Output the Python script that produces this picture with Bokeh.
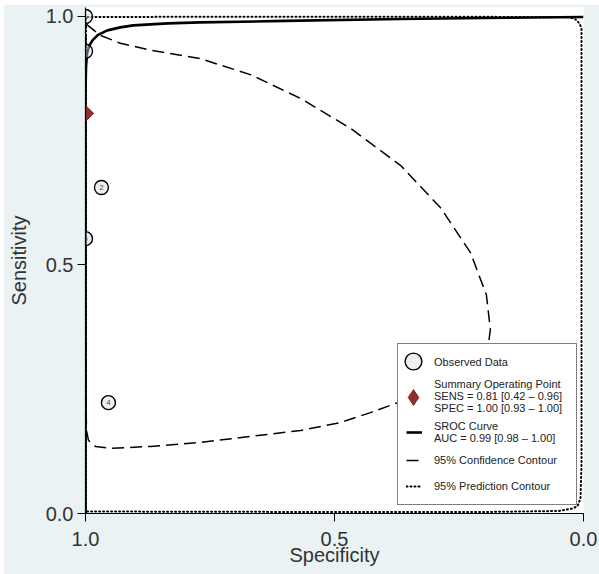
import math
from bokeh.plotting import figure
from bokeh.models import (Range1d, Legend, LegendItem, ColumnDataSource, FixedTicker,
                          NumeralTickFormatter)
from bokeh.embed import file_html
from bokeh.resources import INLINE
from bokeh.core.properties import value

# Observed studies (specificity, sensitivity)
obs_spec = [1.0, 1.0, 0.968, 1.0, 0.954]
obs_sens = [1.0, 0.93, 0.656, 0.553, 0.223]
obs_label = ["1", "3", "2", "5", "4"]

# Summary operating point
sum_spec = [1.0]
sum_sens = [0.805]

# SROC curve
sroc_spec = [1.0, 1.0, 1.0, 0.999, 0.997, 0.993, 0.986, 0.975, 0.956, 0.93, 0.904,
             0.835, 0.77, 0.6, 0.367, 0.2, 0.0]
sroc_sens = [0.0, 0.5, 0.85, 0.897, 0.925, 0.94, 0.952, 0.963, 0.972, 0.978, 0.982,
             0.986, 0.988, 0.991, 0.995, 0.997, 0.999]

# 95% confidence contour
conf_spec = [0.998, 0.970, 0.930, 0.869, 0.769, 0.669, 0.568, 0.468, 0.367, 0.287,
             0.227, 0.195, 0.187, 0.195, 0.22, 0.27, 0.33, 0.373, 0.428, 0.488,
             0.568, 0.669, 0.769, 0.869, 0.950, 0.980, 0.994, 0.998, 0.999, 1.0,
             1.0, 0.999, 0.998]
conf_sens = [0.984, 0.962, 0.946, 0.932, 0.915, 0.883, 0.835, 0.775, 0.70, 0.615,
             0.525, 0.44, 0.37, 0.31, 0.27, 0.245, 0.232, 0.223, 0.203, 0.183,
             0.167, 0.155, 0.143, 0.135, 0.131, 0.135, 0.147, 0.167, 0.227, 0.5,
             0.9, 0.97, 0.984]

# 95% prediction contour
pred_spec = [0.999, 0.999, 0.5, 0.05, 0.026, 0.016, 0.008, 0.004, 0.004, 0.004,
             0.006, 0.012, 0.022, 0.05, 0.2, 0.5, 0.999]
pred_sens = [0.004, 0.999, 0.9995, 0.999, 0.998, 0.994, 0.986, 0.976, 0.5, 0.1,
             0.03, 0.015, 0.010, 0.005, 0.003, 0.003, 0.004]

x_ticks = [1.0, 0.5, 0.0]
y_ticks = [0.0, 0.5, 1.0]

FONT = "Liberation Sans"
BG = "#eaf2f3"
RED = "#8e2f2f"

p = figure(width=596, height=570, x_range=Range1d(1.0, 0.0), y_range=Range1d(0.0, 1.018),
           output_backend="svg", toolbar_location=None,
           min_border_left=82, min_border_right=16, min_border_top=3, min_border_bottom=61,
           border_fill_color=BG, background_fill_color="white", outline_line_color=None)
p.margin = (4, 0, 0, 3)
p.grid.visible = False

for ax in (p.xaxis[0], p.yaxis[0]):
    ax.major_label_text_font = FONT
    ax.major_label_text_font_size = "20px"
    ax.major_label_text_color = "#333333"
    ax.axis_label_text_font = FONT
    ax.axis_label_text_font_size = "20px"
    ax.axis_label_text_font_style = "normal"
    ax.axis_label_text_color = "#333333"
    ax.major_tick_out = 8
    ax.major_tick_in = 0
    ax.minor_tick_out = 0
    ax.minor_tick_in = 0
    ax.axis_line_color = "black"
    ax.major_tick_line_color = "black"
    ax.axis_line_width = 1.2
    ax.formatter = NumeralTickFormatter(format="0.0")

p.xaxis.ticker = FixedTicker(ticks=x_ticks)
p.yaxis.ticker = FixedTicker(ticks=y_ticks)
p.xaxis.axis_label = "Specificity"
p.yaxis.axis_label = "Sensitivity"
p.xaxis.major_label_standoff = 10
p.xaxis.axis_label_standoff = -5
p.yaxis.major_label_standoff = 4
p.yaxis.axis_label_standoff = 13

obs_src = ColumnDataSource(dict(x=obs_spec, y=obs_sens, t=obs_label))

r_pred = p.line(pred_spec, pred_sens, line_color="black", line_width=2, line_dash="1 3",
                line_cap="round")
r_conf = p.line(conf_spec, conf_sens, line_color="black", line_width=1.5, line_dash="12 6")
r_sroc = p.line(sroc_spec, sroc_sens, line_color="black", line_width=2.6)

r_obs = p.scatter("x", "y", source=obs_src, marker="circle", size=14,
                  fill_color="#dcdcdc", fill_alpha=0.45, line_color="black", line_width=1.4)
p.text("x", "y", text="t", source=obs_src, text_font=value(FONT), text_font_size="8px",
       text_align="center", text_baseline="middle", text_color="#3a4a7a")

# key symbol for the summary point (sits hidden under the plotted marker)
r_sum_key = p.scatter(sum_spec, sum_sens, marker="diamond", size=10, fill_color=RED,
                      line_color=RED)
r_sum = p.scatter(sum_spec, sum_sens, marker="square", angle=math.pi / 4, size=11.5,
                  fill_color=RED, line_color=RED)

legend = Legend(items=[
    LegendItem(label="Observed Data", renderers=[]),
    LegendItem(label="Summary Operating Point\nSENS = 0.81 [0.42 \u2013 0.96]\nSPEC = 1.00 [0.93 \u2013 1.00]", renderers=[]),
    LegendItem(label="SROC Curve\nAUC = 0.99 [0.98 \u2013 1.00]", renderers=[r_sroc]),
    LegendItem(label="95% Confidence Contour", renderers=[r_conf]),
    LegendItem(label="95% Prediction Contour", renderers=[r_pred]),
], location=(312, 8))
legend.label_text_font = FONT
legend.label_text_font_size = "11px"
legend.label_text_color = "#222222"
legend.border_line_color = "black"
legend.border_line_width = 1.5
legend.background_fill_color = "white"
legend.background_fill_alpha = 1.0
legend.padding = 8
legend.spacing = 6
legend.margin = 0
legend.glyph_width = 16
legend.glyph_height = 20
legend.label_standoff = 12
legend.label_width = 134
p.add_layout(legend)

# larger key symbols drawn over the first two legend entries
key_circle = Legend(items=[LegendItem(label=" ", renderers=[r_obs])],
                    location=(307, 131), glyph_width=42, glyph_height=42, padding=0,
                    margin=0, label_standoff=0, border_line_color=None,
                    background_fill_alpha=0, label_text_font_size="1px")
key_diamond = Legend(items=[LegendItem(label=" ", renderers=[r_sum_key])],
                     location=(308, 96), glyph_width=40, glyph_height=40, padding=0,
                     margin=0, label_standoff=0, border_line_color=None,
                     background_fill_alpha=0, label_text_font_size="1px")
p.add_layout(key_circle)
p.add_layout(key_diamond)

open("out.html", "w").write(file_html(p, INLINE))
